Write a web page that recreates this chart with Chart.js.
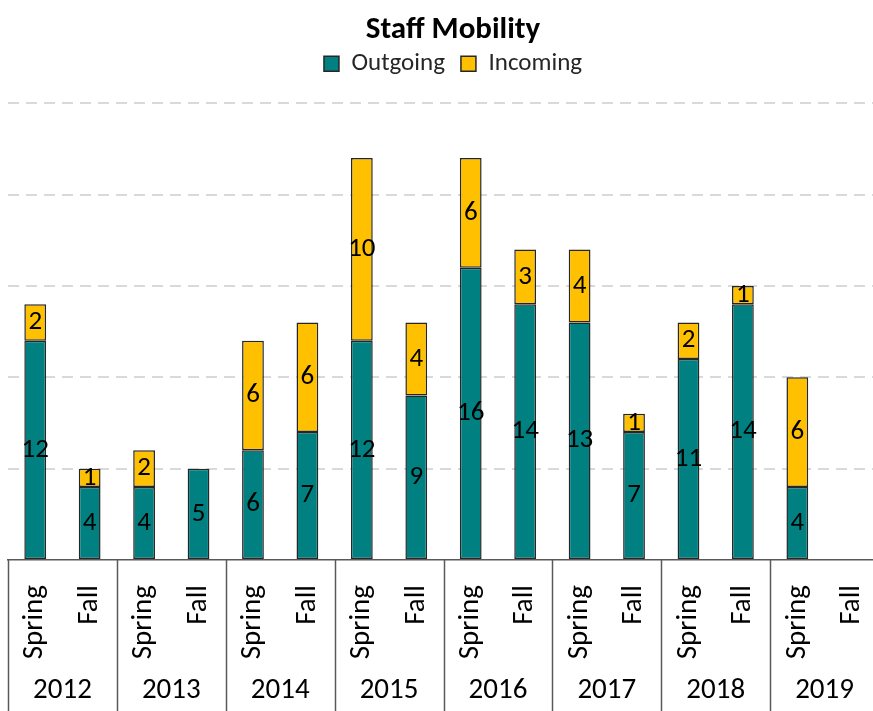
<!DOCTYPE html>
<html>
<head>
<meta charset="utf-8">
<script src="https://cdn.jsdelivr.net/npm/chart.js@4.4.1/dist/chart.umd.min.js"></script>
<style>
  html, body { margin: 0; padding: 0; overflow: hidden; background: #fff; }
  #wrap { width: 905px; height: 711px; }
</style>
</head>
<body>
<div id="wrap"><canvas id="chart"></canvas></div>
<script>
// Semesters per year, two per year group
const years = ['2012', '2013', '2014', '2015', '2016', '2017', '2018', '2019'];
const terms = ['Spring', 'Fall'];
const outgoing = [12, 4, 4, 5, 6, 7, 12, 9, 16, 14, 13, 7, 11, 14, 4, 0];
const incoming = [2, 1, 2, 0, 6, 6, 10, 4, 6, 3, 4, 1, 2, 1, 6, 0];
const yMax = 25;

const FONT = 'Carlito, Lato, sans-serif';
const labels = years.flatMap(() => terms);

// Draws the value in the middle of each stacked segment
const segmentLabels = {
    id: 'segmentLabels',
    afterDatasetsDraw(chart) {
        const ctx = chart.ctx;
        ctx.save();
        ctx.font = '27px ' + FONT;
        ctx.fillStyle = '#000';
        ctx.textAlign = 'center';
        ctx.textBaseline = 'middle';
        chart.data.datasets.forEach((ds, i) => {
            chart.getDatasetMeta(i).data.forEach((bar, j) => {
                const v = ds.data[j];
                if (!v) return;
                const { x, y, base } = bar.getProps(['x', 'y', 'base'], true);
                ctx.fillText(String(v), x, (y + base) / 2);
            });
        });
        ctx.restore();
    }
};

// Second level of the category axis: year boxes and labels
const yearAxis = {
    id: 'yearAxis',
    afterDraw(chart) {
        const xs = chart.scales.x;
        const ctx = chart.ctx;
        const catW = xs.getPixelForValue(1) - xs.getPixelForValue(0);
        ctx.save();
        ctx.strokeStyle = '#595959';
        ctx.lineWidth = 1.5;
        for (let i = 0; i <= years.length; i++) {
            const px = Math.round(xs.getPixelForValue(i * 2) - catW / 2) + 0.5;
            ctx.beginPath();
            ctx.moveTo(px, xs.top);
            ctx.lineTo(px, chart.height);
            ctx.stroke();
        }
        ctx.font = '29px ' + FONT;
        ctx.fillStyle = '#000';
        ctx.textAlign = 'center';
        ctx.textBaseline = 'middle';
        years.forEach((yr, i) => {
            const cx = (xs.getPixelForValue(i * 2) + xs.getPixelForValue(i * 2 + 1)) / 2;
            ctx.fillText(yr, cx, 691);
        });
        ctx.restore();
    }
};

new Chart(document.getElementById('chart'), {
    type: 'bar',
    data: {
        labels,
        datasets: [
            {
                label: 'Outgoing',
                data: outgoing.map(v => v || null),
                backgroundColor: '#008080',
                borderColor: '#262626',
                borderWidth: 1.5,
                borderSkipped: false
            },
            {
                label: 'Incoming',
                data: incoming.map(v => v || null),
                backgroundColor: '#FFC000',
                borderColor: '#262626',
                borderWidth: 1.5,
                borderSkipped: false
            }
        ]
    },
    options: {
        responsive: true,
        maintainAspectRatio: false,
        animation: false,
        devicePixelRatio: 1,
        layout: { padding: { left: 8, right: 7, top: 0, bottom: 0 } },
        datasets: { bar: { barPercentage: 0.4, categoryPercentage: 1.0 } },
        plugins: {
            title: {
                display: true,
                text: 'Staff Mobility',
                color: '#000',
                font: { family: FONT, size: 31, weight: 'bold' },
                padding: { top: 12, bottom: -14 }
            },
            legend: {
                labels: {
                    color: '#262626',
                    font: { family: FONT, size: 25 },
                    boxWidth: 15,
                    boxHeight: 15,
                    padding: 16
                }
            },
            // empty block that keeps the gap between legend and plot
            subtitle: {
                display: true,
                text: '',
                weight: 500,
                font: { size: 1, lineHeight: 1 },
                padding: { top: 0, bottom: 16 }
            },
            tooltip: { enabled: false }
        },
        scales: {
            x: {
                stacked: true,
                grid: { display: false, drawTicks: false },
                border: { display: true, color: '#595959', width: 1.5 },
                ticks: {
                    autoSkip: false,
                    minRotation: 90,
                    maxRotation: 90,
                    padding: 25,
                    color: '#000',
                    font: { family: FONT, size: 29 }
                },
                afterFit(scale) {
                    scale.height = 151;
                    scale.paddingLeft = 0;
                    scale.paddingRight = 0;
                }
            },
            y: {
                position: 'right',
                stacked: true,
                min: 0,
                max: yMax,
                ticks: { display: false, stepSize: 5 },
                grid: {
                    drawTicks: false,
                    lineWidth: 2,
                    color: c => (c.tick && c.tick.value === 0) ? 'rgba(0,0,0,0)' : '#d9d9d9'
                },
                border: { display: false, dash: [11, 7] },
                afterFit(scale) { scale.width = 19; }
            }
        }
    },
    plugins: [segmentLabels, yearAxis]
});
</script>
</body>
</html>
